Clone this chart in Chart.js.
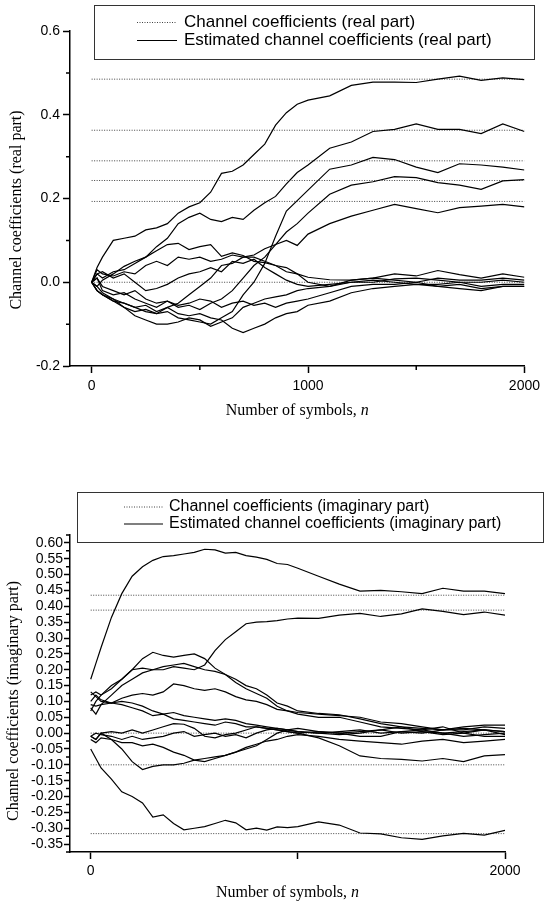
<!DOCTYPE html>
<html>
<head>
<meta charset="utf-8">
<script src="https://cdn.jsdelivr.net/npm/chart.js@4.4.1/dist/chart.umd.min.js"></script>
<style>
  html, body { margin: 0; padding: 0; background: #fff; }
  #wrap { position: relative; width: 545px; height: 905px; overflow: hidden; }
  #wrap canvas { position: absolute; left: 0; }
</style>
</head>
<body>
<div id="wrap">
  <canvas id="realChart" width="545" height="450" style="top:0"></canvas>
  <canvas id="imagChart" width="545" height="455" style="top:450px"></canvas>
</div>
<script>
var N = [0, 25, 50, 100, 150, 200, 250, 300, 350, 400, 450, 500, 550, 600, 650, 700, 750, 800, 850, 900, 950, 1000,
         1100, 1200, 1300, 1400, 1500, 1600, 1700, 1800, 1900, 2000];

// ---- real part: true coefficients (dotted) ----
var REAL_TRUE = [0.485, 0.363, 0.29, 0.243, 0.193, 0];

// ---- real part: estimated coefficients ----
var REAL_T1 = [0, 0.035, 0.06, 0.10, 0.105, 0.11, 0.125, 0.13, 0.14, 0.165, 0.18, 0.19, 0.215, 0.26, 0.265, 0.28, 0.305, 0.33, 0.375, 0.405, 0.425, 0.435, 0.445, 0.47, 0.478, 0.478, 0.477, 0.485, 0.492, 0.482, 0.488, 0.484];
var REAL_T2 = [0, -0.01, 0.005, 0.02, 0.038, 0.05, 0.06, 0.085, 0.105, 0.14, 0.155, 0.165, 0.15, 0.145, 0.155, 0.15, 0.172, 0.19, 0.205, 0.235, 0.262, 0.28, 0.32, 0.335, 0.36, 0.365, 0.378, 0.365, 0.365, 0.355, 0.378, 0.36];
var REAL_T3 = [0, -0.02, -0.03, -0.04, -0.05, -0.06, -0.07, -0.075, -0.07, -0.085, -0.09, -0.095, -0.1, -0.085, -0.07, -0.03, 0.0, 0.045, 0.11, 0.17, 0.195, 0.22, 0.27, 0.28, 0.298, 0.293, 0.275, 0.262, 0.283, 0.28, 0.275, 0.268];
var REAL_T4 = [0, 0.01, -0.01, -0.02, -0.03, -0.02, -0.04, -0.05, -0.045, -0.06, -0.055, -0.065, -0.05, -0.04, -0.02, 0.01, 0.04, 0.06, 0.09, 0.12, 0.14, 0.165, 0.21, 0.232, 0.24, 0.252, 0.25, 0.238, 0.232, 0.222, 0.242, 0.245];
var REAL_T5 = [0, -0.02, -0.03, -0.045, -0.06, -0.07, -0.065, -0.075, -0.06, -0.05, -0.03, -0.01, 0.01, 0.04, 0.045, 0.06, 0.065, 0.08, 0.09, 0.1, 0.088, 0.115, 0.14, 0.158, 0.172, 0.186, 0.176, 0.166, 0.178, 0.182, 0.186, 0.18];
var REAL_Z1 = [0, 0.02, 0.01, 0.025, 0.03, 0.045, 0.06, 0.075, 0.09, 0.093, 0.078, 0.085, 0.09, 0.062, 0.07, 0.064, 0.05, 0.047, 0.04, 0.035, 0.02, 0.012, 0.006, 0.005, 0.01, 0.005, 0.0, 0.01, 0.005, 0.005, 0.01, 0.005];
var REAL_Z2 = [0, 0.03, 0.02, 0.015, 0.025, 0.02, 0.04, 0.05, 0.04, 0.06, 0.055, 0.06, 0.05, 0.055, 0.065, 0.06, 0.06, 0.05, 0.04, 0.025, 0.02, 0.0, -0.01, 0.005, 0.01, 0.02, 0.015, 0.028, 0.018, 0.01, 0.02, 0.012];
var REAL_Z3 = [0, -0.01, -0.025, -0.04, -0.06, -0.08, -0.09, -0.1, -0.1, -0.095, -0.085, -0.09, -0.105, -0.095, -0.085, -0.06, -0.05, -0.04, -0.035, -0.03, -0.02, -0.015, -0.01, 0.0, 0.005, 0.0, -0.005, -0.005, 0.0, -0.01, -0.005, -0.005];
var REAL_Z4 = [0, -0.02, -0.03, -0.045, -0.05, -0.06, -0.055, -0.07, -0.06, -0.075, -0.08, -0.075, -0.085, -0.09, -0.11, -0.12, -0.11, -0.1, -0.085, -0.075, -0.07, -0.055, -0.045, -0.025, -0.015, -0.01, -0.005, -0.01, -0.015, -0.02, -0.01, -0.01];
var REAL_Z5 = [0, 0.01, -0.02, -0.03, -0.025, -0.04, -0.05, -0.06, -0.045, -0.055, -0.05, -0.04, -0.045, -0.06, -0.05, -0.045, -0.055, -0.05, -0.06, -0.05, -0.045, -0.04, -0.025, -0.01, -0.005, -0.005, 0.0, -0.01, -0.005, -0.015, -0.01, -0.01];
var REAL_Z6 = [0, 0.02, 0.025, 0.01, 0.02, 0.0, -0.02, -0.015, -0.005, 0.01, 0.02, 0.025, 0.035, 0.025, 0.05, 0.045, 0.055, 0.035, 0.02, 0.005, -0.005, -0.01, -0.005, 0.0, 0.0, 0.008, 0.01, 0.005, 0.0, 0.0, 0.005, 0.0];

// ---- imaginary part: true coefficients (dotted) ----
var IMAG_TRUE = [0.435, 0.388, 0, -0.1, -0.317];

// ---- imaginary part: estimated coefficients ----
var IMAG_B1 = [0.17, 0.22, 0.27, 0.365, 0.44, 0.495, 0.525, 0.545, 0.557, 0.56, 0.565, 0.57, 0.58, 0.578, 0.568, 0.57, 0.56, 0.555, 0.548, 0.535, 0.532, 0.52, 0.495, 0.47, 0.448, 0.45, 0.446, 0.44, 0.457, 0.448, 0.448, 0.44];
var IMAG_B2 = [0.12, 0.13, 0.12, 0.15, 0.17, 0.2, 0.205, 0.2, 0.2, 0.21, 0.205, 0.2, 0.215, 0.26, 0.295, 0.32, 0.345, 0.35, 0.352, 0.355, 0.36, 0.363, 0.362, 0.372, 0.378, 0.368, 0.376, 0.392, 0.384, 0.374, 0.382, 0.372];
var IMAG_B4 = [0.09, 0.085, 0.09, 0.095, 0.09, 0.08, 0.07, 0.055, 0.06, 0.045, 0.04, 0.035, 0.03, 0.025, 0.035, 0.03, 0.02, 0.02, 0.015, 0.01, 0.005, 0.0, -0.015, -0.04, -0.072, -0.08, -0.083, -0.088, -0.08, -0.09, -0.072, -0.068];
var IMAG_B5 = [-0.05, -0.08, -0.11, -0.145, -0.185, -0.2, -0.22, -0.265, -0.258, -0.285, -0.305, -0.3, -0.295, -0.285, -0.275, -0.283, -0.305, -0.3, -0.306, -0.296, -0.298, -0.295, -0.28, -0.29, -0.315, -0.318, -0.33, -0.335, -0.324, -0.316, -0.322, -0.307];
var IMAG_C1 = [0.07, 0.1, 0.12, 0.14, 0.17, 0.2, 0.235, 0.255, 0.245, 0.24, 0.245, 0.25, 0.235, 0.205, 0.185, 0.17, 0.15, 0.14, 0.12, 0.095, 0.085, 0.07, 0.062, 0.058, 0.045, 0.03, 0.02, 0.015, 0.01, 0.015, 0.01, 0.005];
var IMAG_C2 = [0.08, 0.06, 0.09, 0.12, 0.15, 0.17, 0.19, 0.2, 0.21, 0.215, 0.22, 0.21, 0.2, 0.195, 0.185, 0.16, 0.14, 0.125, 0.11, 0.085, 0.07, 0.06, 0.05, 0.05, 0.035, 0.02, 0.015, 0.01, 0.02, 0.0, -0.01, -0.01];
var IMAG_C3 = [0.13, 0.115, 0.1, 0.095, 0.11, 0.12, 0.125, 0.12, 0.13, 0.155, 0.15, 0.14, 0.135, 0.14, 0.13, 0.115, 0.105, 0.1, 0.09, 0.075, 0.07, 0.065, 0.06, 0.055, 0.05, 0.035, 0.03, 0.02, 0.01, 0.01, 0.02, 0.015];
var IMAG_C4 = [0.1, 0.12, 0.105, 0.095, 0.1, 0.095, 0.085, 0.07, 0.06, 0.065, 0.055, 0.05, 0.045, 0.04, 0.045, 0.04, 0.03, 0.025, 0.02, 0.015, 0.01, 0.005, 0.0, 0.005, 0.01, 0.0, 0.005, 0.0, 0.01, 0.02, 0.025, 0.025];
var IMAG_C5 = [-0.01, -0.02, 0.0, 0.005, 0.0, 0.01, 0.0, 0.01, 0.02, 0.03, 0.028, 0.015, -0.01, -0.015, -0.005, 0.0, 0.01, 0.02, 0.015, 0.01, 0.005, 0.0, 0.005, 0.0, -0.01, -0.01, 0.005, 0.01, 0.0, -0.01, -0.005, 0.0];
var IMAG_C6 = [-0.01, -0.02, 0.0, -0.02, -0.05, -0.09, -0.115, -0.105, -0.1, -0.1, -0.095, -0.085, -0.08, -0.075, -0.07, -0.06, -0.05, -0.04, -0.02, 0.0, 0.01, 0.015, 0.005, 0.0, 0.005, 0.01, 0.0, 0.005, -0.005, 0.0, 0.01, 0.005];
var IMAG_C7 = [-0.02, -0.03, -0.015, -0.02, -0.03, -0.03, -0.04, -0.035, -0.045, -0.06, -0.07, -0.085, -0.09, -0.08, -0.07, -0.06, -0.045, -0.035, -0.025, -0.02, -0.01, -0.005, -0.01, -0.02, -0.025, -0.03, -0.035, -0.025, -0.02, -0.03, -0.025, -0.02];
var IMAG_C8 = [-0.01, 0.0, -0.005, -0.01, -0.02, -0.01, -0.02, -0.015, -0.01, 0.0, 0.005, -0.01, -0.005, 0.0, -0.01, -0.005, -0.015, 0.0, 0.01, 0.015, 0.01, 0.005, 0.0, -0.005, 0.0, 0.01, 0.02, 0.005, 0.0, 0.005, 0.01, -0.005];

// ---- ticks ----
var REAL_X_TICKS = [0, 1000, 2000];
var REAL_X_MINOR = [500, 1500];
var REAL_Y_TICKS = [-0.2, 0.0, 0.2, 0.4, 0.6];
var REAL_Y_MINOR = [-0.1, 0.1, 0.3, 0.5];
var IMAG_X_TICKS = [0, 1000, 2000];
var IMAG_X_LABELS = ['0', '', '2000'];
var IMAG_Y_TICKS = [-0.35, -0.30, -0.25, -0.20, -0.15, -0.10, -0.05, 0.00, 0.05, 0.10, 0.15, 0.20, 0.25, 0.30, 0.35, 0.40, 0.45, 0.50, 0.55, 0.60];
var IMAG_Y_MINOR = [-0.375, -0.325, -0.275, -0.225, -0.175, -0.125, -0.075, -0.025, 0.025, 0.075, 0.125, 0.175, 0.225, 0.275, 0.325, 0.375, 0.425, 0.475, 0.525, 0.575, 0.625];

var SANS = '"Liberation Sans", Arial, Helvetica, sans-serif';
var SERIF = '"Liberation Serif", "Times New Roman", Times, serif';

function estSet(vals) {
    return {
        data: N.map(function(n, i) { return { x: n, y: vals[i] }; }),
        borderColor: '#000', borderWidth: 1.2, pointRadius: 0, tension: 0, fill: false
    };
}
function trueSet(v) {
    return {
        data: [{ x: 0, y: v }, { x: 2000, y: v }],
        borderColor: '#444', borderWidth: 1, borderDash: [1, 1.5], pointRadius: 0, fill: false
    };
}

// minor ticks, legend box and axis titles
var decor = {
    id: 'decor',
    afterDraw: function(chart, args, o) {
        var ctx = chart.ctx, xs = chart.scales.x, ys = chart.scales.y, a = chart.chartArea;
        ctx.save();
        ctx.strokeStyle = '#000';
        ctx.lineWidth = 1.5;
        ctx.beginPath();
        o.minorY.forEach(function(v) {
            var py = ys.getPixelForValue(v);
            ctx.moveTo(a.left, py); ctx.lineTo(a.left - 4, py);
        });
        o.minorX.forEach(function(v) {
            var px = xs.getPixelForValue(v);
            ctx.moveTo(px, a.bottom); ctx.lineTo(px, a.bottom + 4);
        });
        ctx.stroke();

        // legend
        var L = o.legend;
        ctx.fillStyle = '#fff';
        ctx.fillRect(L.x, L.y, L.w, L.h);
        ctx.strokeStyle = '#333';
        ctx.lineWidth = 1;
        ctx.strokeRect(L.x + 0.5, L.y + 0.5, L.w, L.h);
        ctx.strokeStyle = '#444';
        ctx.setLineDash([1, 1.5]);
        ctx.beginPath();
        ctx.moveTo(L.sx0, L.y1); ctx.lineTo(L.sx1, L.y1);
        ctx.stroke();
        ctx.setLineDash([]);
        ctx.strokeStyle = '#000';
        ctx.lineWidth = 1.2;
        ctx.beginPath();
        ctx.moveTo(L.sx0, L.y2); ctx.lineTo(L.sx1, L.y2);
        ctx.stroke();
        ctx.fillStyle = '#000';
        ctx.font = L.size + 'px ' + SANS;
        ctx.textAlign = 'left';
        ctx.textBaseline = 'middle';
        ctx.fillText(L.text1, L.tx, L.y1);
        ctx.fillText(L.text2, L.tx, L.y2);

        // y title
        ctx.save();
        ctx.translate(o.yTitle.x, o.yTitle.y);
        ctx.rotate(-Math.PI / 2);
        ctx.font = '16px ' + SERIF;
        ctx.textAlign = 'center';
        ctx.fillText(o.yTitle.text, 0, 0);
        ctx.restore();

        // x title with italic n
        var t1 = 'Number of symbols, ', t2 = 'n';
        ctx.font = '16px ' + SERIF;
        var w1 = ctx.measureText(t1).width;
        ctx.font = 'italic 16px ' + SERIF;
        var w2 = ctx.measureText(t2).width;
        var sx = (a.left + a.right) / 2 - (w1 + w2) / 2;
        ctx.textAlign = 'left';
        ctx.font = '16px ' + SERIF;
        ctx.fillText(t1, sx, o.xTitleY);
        ctx.font = 'italic 16px ' + SERIF;
        ctx.fillText(t2, sx + w1, o.xTitleY);
        ctx.restore();
    }
};

function axisCommon(tickLen) {
    return {
        grid: { drawOnChartArea: false, drawTicks: true, tickLength: tickLen, tickWidth: 1.5, tickColor: '#000' },
        border: { display: true, color: '#000', width: 1.5 }
    };
}

function makeChart(id, datasets, cfg) {
    var xAxis = axisCommon(7);
    xAxis.type = 'linear';
    xAxis.min = -100; xAxis.max = 2000;
    xAxis.afterBuildTicks = function(s) { s.ticks = cfg.xTicks.map(function(v) { return { value: v }; }); };
    xAxis.afterFit = function(s) { s.height = cfg.xHeight; };
    xAxis.ticks = {
        color: '#000', font: { family: SANS, size: 14 }, padding: cfg.xPad, maxRotation: 0, autoSkip: false,
        callback: function(v, i) { return cfg.xLabels ? cfg.xLabels[i] : String(v); }
    };
    var yAxis = axisCommon(cfg.yTickLen);
    yAxis.type = 'linear';
    yAxis.min = cfg.yMin; yAxis.max = cfg.yMax;
    yAxis.afterBuildTicks = function(s) { s.ticks = cfg.yTicks.map(function(v) { return { value: v }; }); };
    yAxis.afterFit = function(s) { s.width = 70; };
    yAxis.ticks = {
        color: '#000', font: { family: SANS, size: cfg.yFont }, padding: cfg.yPad, autoSkip: false,
        callback: function(v) { return v.toFixed(cfg.yDigits); }
    };
    return new Chart(document.getElementById(id), {
        type: 'line',
        data: { datasets: datasets },
        options: {
            responsive: false, animation: false, events: [],
            layout: { padding: { left: 0, right: cfg.padRight, top: cfg.padTop, bottom: 0 } },
            scales: { x: xAxis, y: yAxis },
            plugins: { legend: { display: false }, tooltip: { enabled: false }, decor: cfg.decor }
        },
        plugins: [decor]
    });
}

var realSets = [REAL_T1, REAL_T2, REAL_T3, REAL_T4, REAL_T5, REAL_Z1, REAL_Z2, REAL_Z3, REAL_Z4, REAL_Z5, REAL_Z6].map(estSet)
    .concat(REAL_TRUE.map(trueSet));
var imagSets = [IMAG_B1, IMAG_B2, IMAG_B4, IMAG_B5, IMAG_C1, IMAG_C2, IMAG_C3, IMAG_C4, IMAG_C5, IMAG_C6, IMAG_C7, IMAG_C8].map(estSet)
    .concat(IMAG_TRUE.map(trueSet));

makeChart('realChart', realSets, {
    xTicks: REAL_X_TICKS, xHeight: 84, xPad: 5,
    yMin: -0.2, yMax: 0.6, yTicks: REAL_Y_TICKS, yDigits: 1, yFont: 14, yPad: 3, yTickLen: 7,
    padRight: 16, padTop: 31,
    decor: {
        minorX: REAL_X_MINOR, minorY: REAL_Y_MINOR,
        legend: { x: 94, y: 5, w: 440, h: 54, sx0: 137, sx1: 177, tx: 184, y1: 22.5, y2: 40.5, size: 17,
                  text1: 'Channel coefficients (real part)', text2: 'Estimated channel coefficients (real part)' },
        yTitle: { text: 'Channel coefficients (real part)', x: 17, y: 210 },
        xTitleY: 411
    }
});

makeChart('imagChart', imagSets, {
    xTicks: IMAG_X_TICKS, xLabels: IMAG_X_LABELS, xHeight: 53, xPad: 4,
    yMin: -0.375, yMax: 0.625, yTicks: IMAG_Y_TICKS, yDigits: 2, yFont: 14, yPad: 1, yTickLen: 6,
    padRight: 40, padTop: 85,
    decor: {
        minorX: [], minorY: IMAG_Y_MINOR,
        legend: { x: 77, y: 42, w: 466, h: 50, sx0: 124, sx1: 163, tx: 169, y1: 57, y2: 74, size: 16,
                  text1: 'Channel coefficients (imaginary part)', text2: 'Estimated channel coefficients (imaginary part)' },
        yTitle: { text: 'Channel coefficients (imaginary part)', x: 14, y: 251 },
        xTitleY: 443
    }
});
</script>
</body>
</html>
